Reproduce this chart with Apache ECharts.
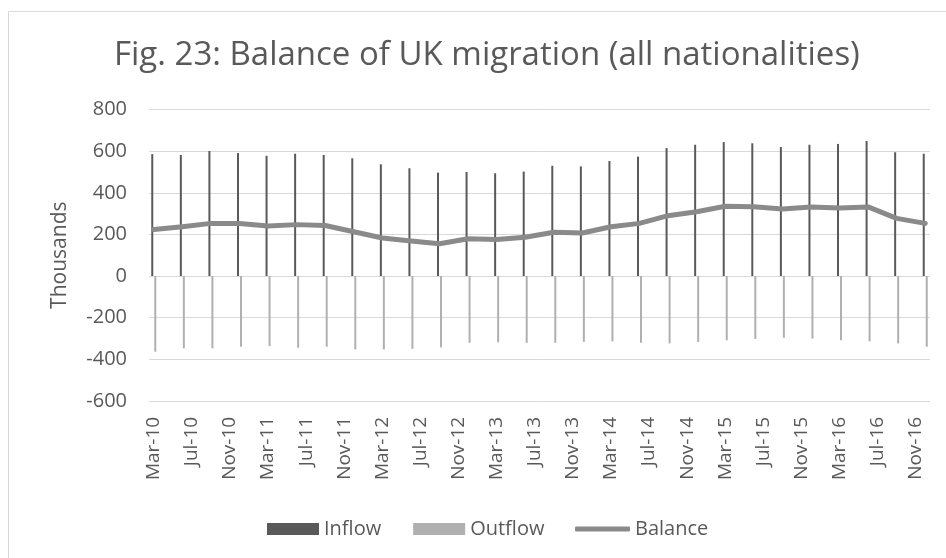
<!DOCTYPE html>
<html>
<head>
<meta charset="utf-8">
<script src="https://cdn.jsdelivr.net/npm/echarts@6/dist/echarts.min.js"></script>
<style>
  html, body { margin: 0; padding: 0; background: #ffffff; }
  #chart { width: 946px; height: 558px; }
</style>
</head>
<body>
<div id="chart"></div>
<script>
// Quarterly observation dates (year ending)
const quarters = [
  'Mar-10','Jun-10','Sep-10','Dec-10',
  'Mar-11','Jun-11','Sep-11','Dec-11',
  'Mar-12','Jun-12','Sep-12','Dec-12',
  'Mar-13','Jun-13','Sep-13','Dec-13',
  'Mar-14','Jun-14','Sep-14','Dec-14',
  'Mar-15','Jun-15','Sep-15','Dec-15',
  'Mar-16','Jun-16','Sep-16','Dec-16'
];
// Thousands of people
const inflow = [586,582,601,591,578,588,582,566,537,518,497,500,494,502,530,527,553,574,615,631,644,638,620,631,635,649,595,588];
const outflow = [-364,-348,-348,-340,-337,-345,-340,-353,-353,-350,-343,-321,-319,-321,-321,-317,-314,-321,-324,-317,-309,-303,-297,-301,-309,-314,-324,-340];
const balance = [224,237,253,252,240,247,243,213,183,168,155,179,176,186,210,207,237,253,290,309,335,333,322,332,327,332,277,253];

// Y axis ticks
const yTicks = [-600, -400, -200, 0, 200, 400, 600, 800];

// Monthly date axis Mar-10 .. Dec-16; labels every 4 months
const monthNames = ['Jan','Feb','Mar','Apr','May','Jun','Jul','Aug','Sep','Oct','Nov','Dec'];
const months = [];
for (let y = 10, m = 2; !(y === 17 && m === 0); ) {
  months.push(monthNames[m] + '-' + y);
  m++; if (m === 12) { m = 0; y++; }
}
function onMonths(values) {
  const out = months.map(() => null);
  quarters.forEach((q, i) => { out[months.indexOf(q)] = values[i]; });
  return out;
}

const FONT = '"Open Sans"';
const TXT = '#595959';
const LEGEND_TEXT = { fontFamily: FONT, fontSize: 20, color: TXT };

const chart = echarts.init(document.getElementById('chart'), null, { renderer: 'canvas' });
chart.setOption({
  animation: false,
  backgroundColor: '#ffffff',
  title: {
    text: 'Fig. 23: Balance of UK migration (all nationalities)',
    left: 109,
    top: 34,
    padding: 5,
    textStyle: { fontFamily: FONT, fontSize: 33, fontWeight: 'normal', color: TXT }
  },
  graphic: [{
    type: 'rect',
    shape: { x: 8.5, y: 11.5, width: 960, height: 580 },
    style: { fill: 'none', stroke: '#d9d9d9', lineWidth: 1 },
    silent: true
  }],
  legend: [
    {
      left: 267,
      top: 519,
      padding: 0,
      itemWidth: 52,
      itemHeight: 12,
      itemGap: 32,
      textStyle: LEGEND_TEXT,
      data: [
        { name: 'Inflow', icon: 'rect' },
        { name: 'Outflow', icon: 'rect' }
      ]
    },
    {
      left: 575,
      top: 519,
      padding: 0,
      itemWidth: 55,
      itemHeight: 5,
      textStyle: LEGEND_TEXT,
      data: [{ name: 'Balance', icon: 'roundRect' }]
    }
  ],
  grid: { left: 149, right: 16, top: 109.6, bottom: 157.2, containLabel: false },
  xAxis: {
    type: 'category',
    data: months,
    boundaryGap: true,
    axisLine: { show: false },
    axisTick: { show: false },
    axisLabel: {
      interval: 3,
      rotate: 90,
      margin: 16,
      fontFamily: FONT,
      fontSize: 19,
      color: TXT
    },
    splitLine: { show: false }
  },
  yAxis: {
    type: 'value',
    min: yTicks[0],
    max: yTicks[yTicks.length - 1],
    interval: 200,
    name: 'Thousands',
    nameLocation: 'middle',
    nameGap: 78,
    nameTextStyle: { fontFamily: FONT, fontSize: 21, color: TXT },
    axisLine: { show: false },
    axisTick: { show: false },
    axisLabel: { margin: 22, fontFamily: FONT, fontSize: 20, color: TXT },
    splitLine: { lineStyle: { color: '#d9d9d9', width: 1 } }
  },
  series: [
    {
      name: 'Inflow',
      type: 'bar',
      data: onMonths(inflow),
      barWidth: 2,
      barGap: '50%',
      itemStyle: { color: '#595959' },
      z: 2
    },
    {
      name: 'Outflow',
      type: 'bar',
      data: onMonths(outflow),
      barWidth: 2,
      itemStyle: { color: '#b0b0b0' },
      z: 2
    },
    {
      name: 'Balance',
      type: 'line',
      data: onMonths(balance),
      connectNulls: true,
      showSymbol: false,
      symbol: 'none',
      lineStyle: { color: '#8a8a8a', width: 5, cap: 'round', join: 'round' },
      itemStyle: { color: '#8a8a8a' },
      z: 3
    }
  ]
});
</script>
</body>
</html>
